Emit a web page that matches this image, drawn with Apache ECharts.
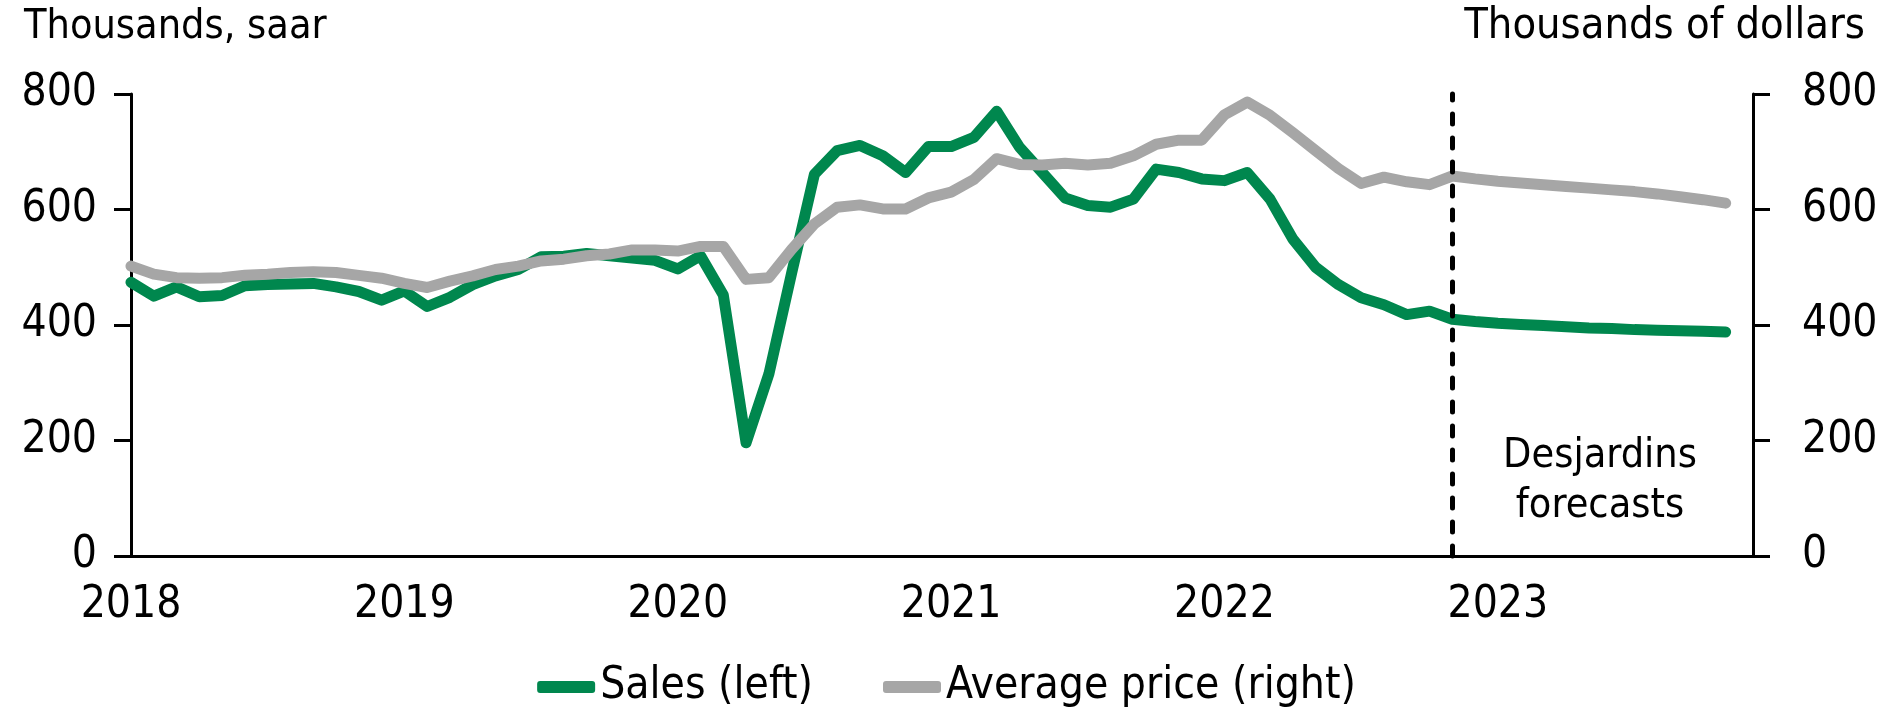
<!DOCTYPE html>
<html>
<head>
<meta charset="utf-8">
<script src="https://cdn.jsdelivr.net/npm/echarts@6/dist/echarts.min.js"></script>
<style>
  html, body { margin: 0; padding: 0; background: #fff; }
  #chart { width: 1893px; height: 719px; }
</style>
</head>
<body>
<div id="chart"></div>
<script>
// months from Jan 2018, index 0 .. 70 (Nov 2023)
var firstYear = 2018
var yearTicks = [2018, 2019, 2020, 2021, 2022, 2023]
var forecastStart = 58 // Nov 2022

// sales, thousands saar (left axis)
var sales = [
  474, 450, 466, 449, 451, 468, 470, 471, 472, 466, 458, 443,
  459, 432, 448, 470, 485, 496, 518, 519, 524, 520, 516, 512,
  497, 520, 452, 196, 315, 490, 661, 702, 711, 693, 664, 709,
  709, 725, 770, 708, 664, 620, 607, 604, 618, 670, 664, 653,
  650, 664, 618, 549, 500, 470, 447, 435, 418, 424, 410, 406,
  403, 401, 399, 397, 395, 394, 392, 391, 390, 389, 388
]

// average price, thousands of dollars (right axis)
var price = [
  502, 488, 482, 481, 482, 486, 488, 491, 492, 491, 486, 481,
  472, 465, 476, 485, 496, 502, 511, 514, 520, 523, 530, 530,
  528, 536, 536, 479, 482, 531, 575, 604, 608, 601, 601, 620,
  630, 652, 688, 678, 677, 680, 677, 680, 693, 713, 720, 720,
  764, 786, 763, 733, 702, 671, 645, 656, 648, 643, 658, 653,
  649, 646, 643, 640, 637, 634, 631, 627, 622, 617, 611
]

var fontName = "'DejaVu Sans Condensed', 'Liberation Sans Narrow', sans-serif"

var toPairs = function (arr) {
  return arr.map(function (v, i) { return [i, v] })
}

var chart = echarts.init(document.getElementById('chart'))

var yAxisBase = function (pos, margin) {
  return {
    type: 'value',
    position: pos,
    min: 0,
    max: 800,
    interval: 200,
    axisLine: { show: true, lineStyle: { color: '#000', width: 3 } },
    axisTick: { show: true, inside: false, length: 17, lineStyle: { color: '#000', width: 3 } },
    splitLine: { show: false },
    axisLabel: { color: '#000', fontSize: 44, fontFamily: fontName, margin: margin }
  }
}

chart.setOption({
  animation: false,
  backgroundColor: '#fff',
  textStyle: { fontFamily: fontName },
  grid: { left: 131, right: 140, top: 94, bottom: 163 },
  legend: {
    left: 'center',
    top: 660,
    icon: 'roundRect',
    itemWidth: 58,
    itemHeight: 12,
    itemGap: 70,
    textStyle: { fontSize: 44, color: '#000', fontFamily: fontName },
    data: ['Sales (left)', 'Average price (right)']
  },
  xAxis: {
    type: 'value',
    min: 0,
    max: 71.2,
    interval: 12,
    axisLine: { show: true, lineStyle: { color: '#000', width: 3 } },
    axisTick: { show: false },
    splitLine: { show: false },
    axisLabel: {
      color: '#000',
      fontSize: 44,
      fontFamily: fontName,
      margin: 28,
      showMaxLabel: false,
      formatter: function (v) {
        var y = firstYear + Math.round(v / 12)
        return yearTicks.indexOf(y) >= 0 ? String(y) : ''
      }
    }
  },
  yAxis: [yAxisBase('left', 34), yAxisBase('right', 49)],
  graphic: [
    { type: 'text', left: 24, top: 7, style: { text: 'Thousands, saar', fontSize: 41, fontFamily: fontName, fill: '#000' } },
    { type: 'text', right: 28, top: 5, style: { text: 'Thousands of dollars', fontSize: 43, fontFamily: fontName, fill: '#000' } },
    {
      type: 'text', x: 1600, y: 481,
      style: {
        text: 'Desjardins\nforecasts', fontSize: 41, lineHeight: 50, fontFamily: fontName,
        fill: '#000', textAlign: 'center', textVerticalAlign: 'middle'
      }
    }
  ],
  series: [
    {
      name: 'Sales (left)',
      type: 'line',
      yAxisIndex: 0,
      data: toPairs(sales),
      showSymbol: false,
      symbol: 'none',
      z: 2,
      itemStyle: { color: '#00874E' },
      lineStyle: { color: '#00874E', width: 11, cap: 'round', join: 'round' },
      markLine: {
        silent: true,
        symbol: 'none',
        label: { show: false },
        lineStyle: { color: '#000', width: 5, type: [10, 14], cap: 'round' },
        data: [{ xAxis: forecastStart }]
      }
    },
    {
      name: 'Average price (right)',
      type: 'line',
      yAxisIndex: 1,
      data: toPairs(price),
      showSymbol: false,
      symbol: 'none',
      z: 3,
      itemStyle: { color: '#A6A6A6' },
      lineStyle: { color: '#A6A6A6', width: 11, cap: 'round', join: 'round' }
    }
  ]
})
</script>
</body>
</html>
